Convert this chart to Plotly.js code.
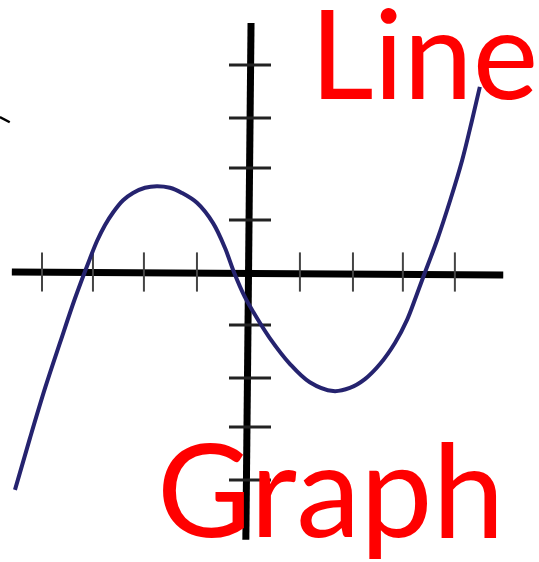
<!DOCTYPE html>
<html>
<head>
<meta charset="utf-8">
<script src="https://cdn.plot.ly/plotly-3.0.1.min.js"></script>
<style>
  html, body { margin: 0; padding: 0; background: #ffffff; }
  #chart { width: 539px; height: 562px; }
</style>
</head>
<body>
<div id="chart"></div>
<script>
// Curve points (data units, 1 unit = one tick step)
var curveX = [-4.52, -4.23, -3.94, -3.65, -3.37, -3.12, -2.94, -2.79, -2.63, -2.44, -2.25, -2.02, -1.79, -1.54, -1.31, -1.02, -0.71, -0.48, -0.31, -0.10, 0.13, 0.38, 0.77, 1.15, 1.60, 1.92, 2.21, 2.50, 2.79, 3.02, 3.19, 3.33, 3.60, 3.85, 4.08, 4.27, 4.42];
var curveY = [-4.19, -3.19, -2.23, -1.35, -0.52, 0.15, 0.60, 0.90, 1.15, 1.38, 1.52, 1.62, 1.65, 1.62, 1.52, 1.33, 0.94, 0.46, 0.00, -0.48, -0.88, -1.27, -1.77, -2.12, -2.29, -2.23, -2.06, -1.77, -1.36, -0.92, -0.48, -0.10, 0.62, 1.38, 2.15, 2.92, 3.56];

// Hand-drawn axes (slightly tilted in the picture)
var xAxisX = [-4.58, 4.87];
var xAxisY = [0.00, -0.06];
var yAxisX = [0.02, -0.08];
var yAxisY = [4.79, -5.15];

// Tick marks
var xTicks = [-4.00, -3.02, -2.04, -1.02, 0.96, 1.98, 2.94, 3.94];
var yTicks = [3.98, 2.96, 2.00, 1.00, -1.02, -2.04, -2.98, -4.00];

// Small stray stroke at the top-left edge
var stubX = [-4.81, -4.62];
var stubY = [2.98, 2.88];

// Texts
var titleTop = "Line";
var titleBottom = "Graph";

var traces = [
  { x: xAxisX, y: xAxisY, mode: "lines", line: { color: "#000000", width: 7 }, hoverinfo: "skip" },
  { x: yAxisX, y: yAxisY, mode: "lines", line: { color: "#000000", width: 7 }, hoverinfo: "skip" },
  { x: xTicks, y: xTicks.map(function(){ return 0; }), mode: "markers",
    marker: { symbol: "line-ns", size: 28, line: { color: "#444444", width: 2 } }, hoverinfo: "skip" },
  { x: yTicks.map(function(){ return 0; }), y: yTicks, mode: "markers",
    marker: { symbol: "line-ew", size: 30, line: { color: "#222222", width: 3 } }, hoverinfo: "skip" },
  { x: stubX, y: stubY, mode: "lines", line: { color: "#000000", width: 2.5 }, hoverinfo: "skip" },
  { x: curveX, y: curveY, mode: "lines", line: { color: "#25236f", width: 4, shape: "spline", smoothing: 1 }, hoverinfo: "skip" }
];

var layout = {
  width: 539, height: 562,
  margin: { l: 0, r: 0, t: 0, b: 0, pad: 0 },
  paper_bgcolor: "#ffffff", plot_bgcolor: "#ffffff",
  showlegend: false,
  xaxis: { range: [-250/52, 289/52], visible: false, fixedrange: true },
  yaxis: { range: [-290/52, 272/52], visible: false, fixedrange: true },
  annotations: [
    { text: titleTop, xref: "paper", yref: "paper", x: 308/539, y: 1 - 51/562,
      xanchor: "left", yanchor: "middle", showarrow: false,
      font: { family: "Lato, 'Open Sans', sans-serif", size: 124, color: "#ff0000" } },
    { text: titleBottom, xref: "paper", yref: "paper", x: 155/539, y: 1 - 487/562,
      xanchor: "left", yanchor: "middle", showarrow: false,
      font: { family: "Lato, 'Open Sans', sans-serif", size: 129, color: "#ff0000" } }
  ]
};

Plotly.newPlot("chart", traces, layout, { displayModeBar: false, staticPlot: true });
</script>
</body>
</html>
